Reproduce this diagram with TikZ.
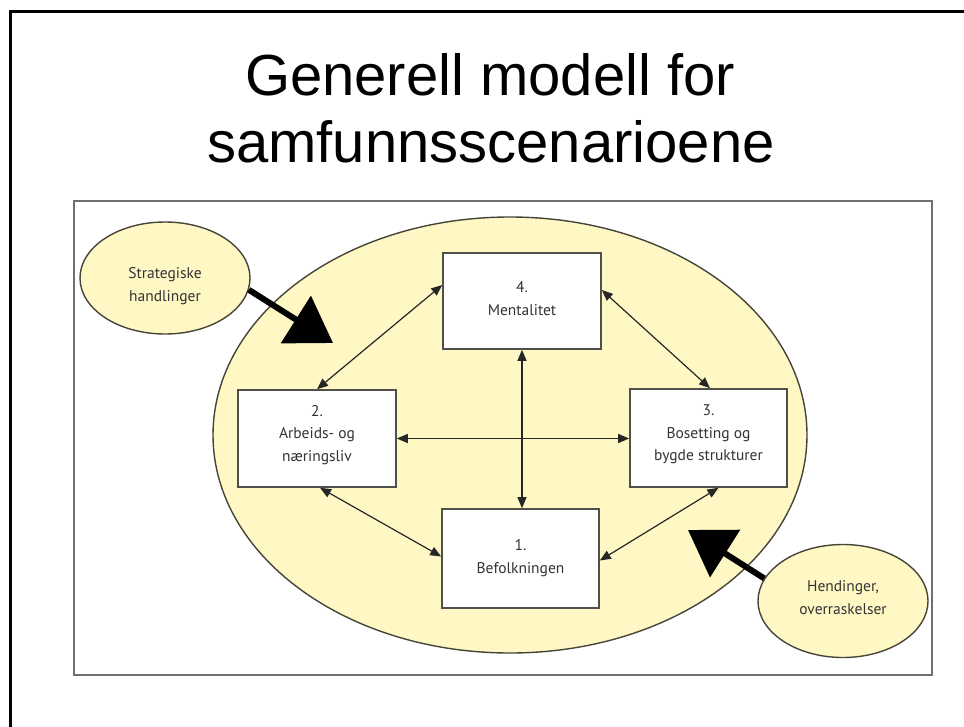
\documentclass[tikz,border=0pt]{standalone}
\usepackage{fontspec}
\usetikzlibrary{shapes.geometric,arrows.meta,calc}
\newfontfamily\titlefont{Liberation Sans}
\newfontfamily\boxfont{PT Sans}
\definecolor{ellfill}{HTML}{FFF8C4}
\definecolor{ellline}{HTML}{45453A}
\definecolor{boxline}{HTML}{50504A}
\definecolor{txt}{HTML}{333333}
\definecolor{framegray}{HTML}{707070}
\tikzset{
  bigell/.style={ellipse, draw=ellline, line width=1.4pt, fill=ellfill, inner sep=0pt},
  smallell/.style={ellipse, draw=ellline, line width=1.4pt, fill=ellfill, inner sep=0pt,
    font=\boxfont\fontsize{15.5}{23}\selectfont, text=txt, align=center},
  stepbox/.style={rectangle, draw=boxline, line width=1.6pt, fill=white, inner sep=0pt,
    font=\boxfont\fontsize{15.5}{22.5}\selectfont, text=txt, align=center},
  thinarrow/.style={draw=black!85, line width=1.2pt, {Triangle[length=11pt,width=9pt]}-{Triangle[length=11pt,width=9pt]}},
  thickarrow/.style={draw=black, line width=6pt, -{Triangle[length=44pt,width=55pt]}},
  titletext/.style={font=\titlefont\fontsize{58}{67}\selectfont, anchor=base, inner sep=0pt}
}
\begin{document}
\begin{tikzpicture}[x=1pt,y=-1pt]
\useasboundingbox (0,0) rectangle (964,726);
% slide frame
\draw[line width=3pt] (10.5,730) -- (10.5,11) -- (970,11);
% title
\node[titletext] (t1) at (490,95) {Generell modell for};
\node[titletext] (t2) at (491,162) {samfunnsscenarioene};
% picture frame
\draw[draw=framegray, line width=1.5pt, fill=white] (74,201) rectangle (932,675);
% big ellipse
\node[bigell, minimum width=594pt, minimum height=436pt] (world) at (510,435) {};
% boxes
\node[stepbox, minimum width=158pt, minimum height=96pt] (b4) at (522,301) {4.\\Mentalitet\\[-17pt]};
\node[stepbox, minimum width=158pt, minimum height=97pt] (b2) at (317,438.5) {2.\\Arbeids- og\\næringsliv\\[-12pt]};
\node[stepbox, minimum width=157pt, minimum height=98pt] (b3) at (708.5,438) {3.\\Bosetting og\\bygde strukturer\\[-12pt]};
\node[stepbox, minimum width=157pt, minimum height=99pt] (b1) at (520.5,558.5) {1.\\Befolkningen\\[-18pt]};
% small ellipses
\node[smallell, minimum width=170pt, minimum height=112pt] (s) at (165,278) {\rule{0pt}{27pt}Strategiske\\handlinger};
\node[smallell, minimum width=170pt, minimum height=113pt] (h) at (843,601) {Hendinger,\\overraskelser\\[-17pt]};
% thin double arrows
\draw[thinarrow] (b2.north) -- ([yshift=16pt]b4.west);
\draw[thinarrow] ([yshift=11pt]b4.east) -- ([xshift=1.5pt]b3.north);
\draw[thinarrow] (b4.south) -- (b4.south |- b1.north);
\draw[thinarrow] (b2.east) -- (b2.east -| b3.west);
\draw[thinarrow] ([xshift=3pt]b2.south) -- ([yshift=2pt]b1.west);
\draw[thinarrow] ([xshift=10pt]b3.south) -- ([yshift=-2pt]b1.east);
% thick arrows
\coordinate (tipL) at (333,343);
\coordinate (tipR) at (688,530);
\draw[thickarrow] (s.-8) -- (tipL);
\draw[thickarrow] (h.164) -- (tipR);
\end{tikzpicture}
\end{document}
